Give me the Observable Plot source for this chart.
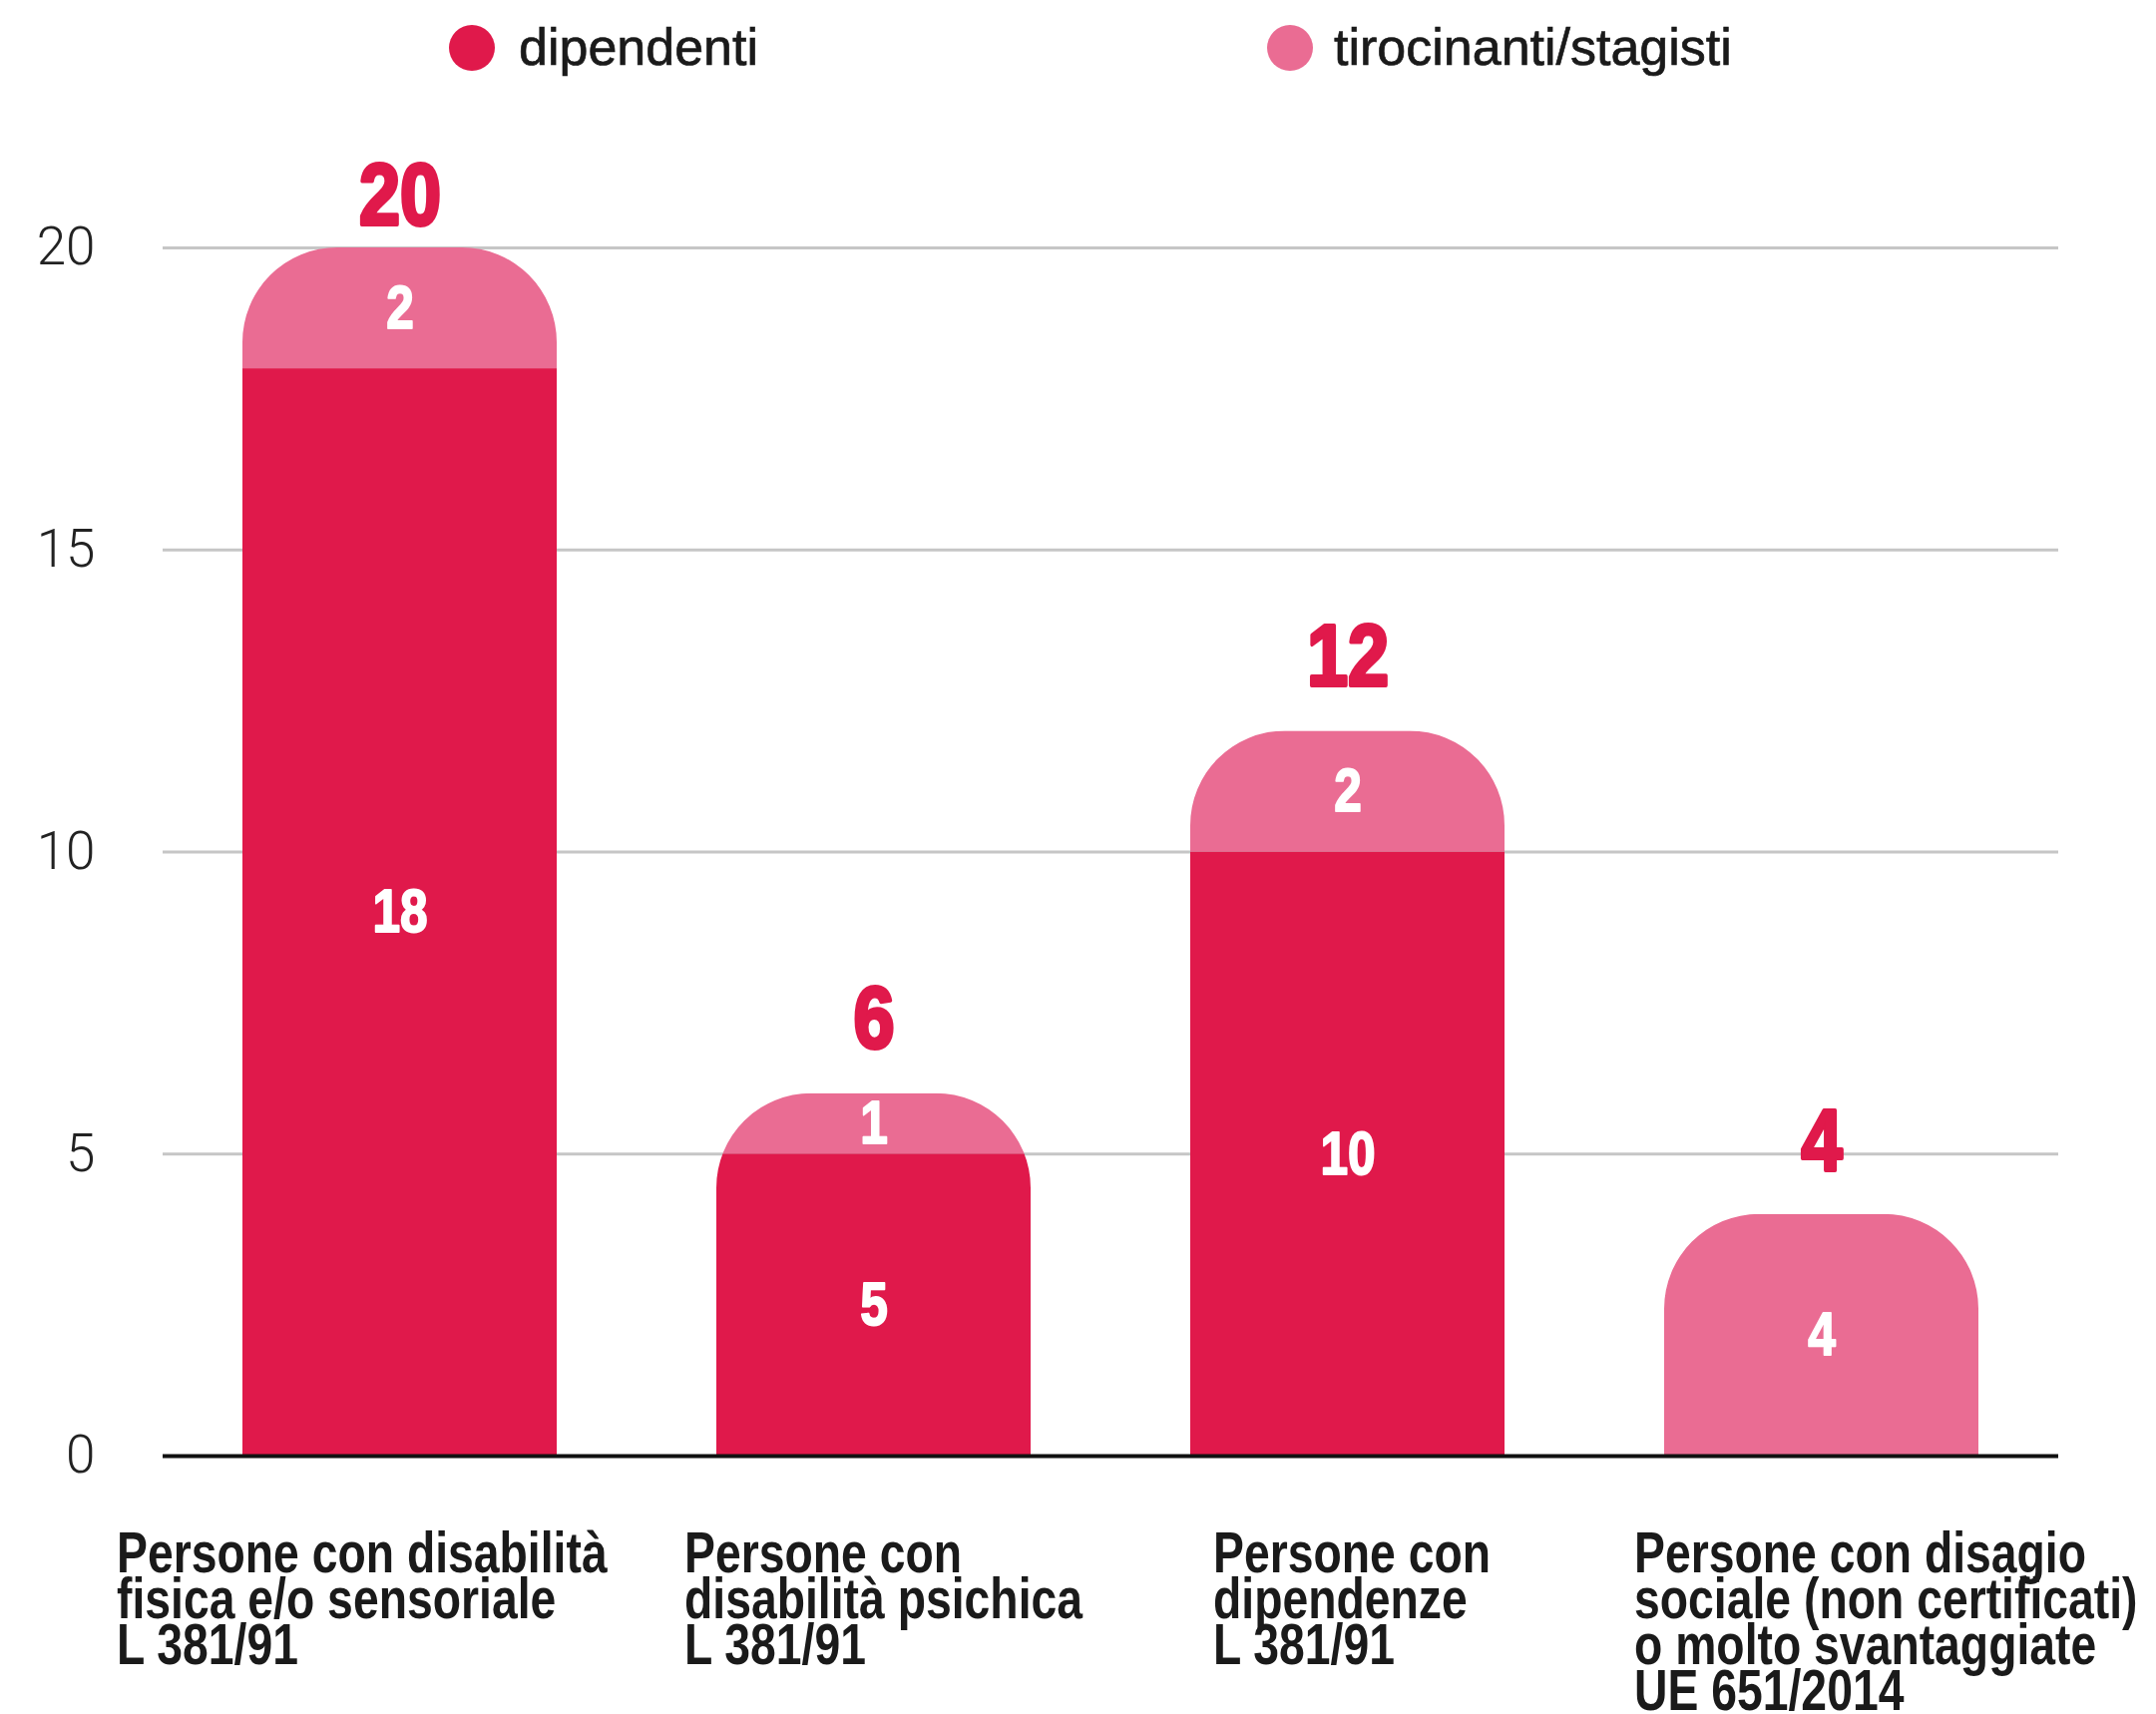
<!DOCTYPE html>
<html>
<head>
<meta charset="utf-8">
<script src="https://cdn.jsdelivr.net/npm/d3@7"></script>
<script src="https://cdn.jsdelivr.net/npm/@observablehq/plot@0.6"></script>
<style>
  html, body { margin: 0; padding: 0; background: #ffffff; }
  #wrap { width: 2161px; }
  #legend { position: relative; width: 2161px; height: 100px; font-family: "Liberation Sans", Arial, sans-serif; font-size: 52px; line-height: 52px; color: #1a1a1a; }
  .dot { position: absolute; width: 46px; height: 46px; border-radius: 50%; top: 25px; }
  .lab { position: absolute; top: 21px; white-space: nowrap; -webkit-text-stroke: 0.7px #1a1a1a; }
  svg { display: block; }
</style>
</head>
<body>
<div id="wrap">
  <div id="legend"></div>
  <div id="chart"></div>
</div>
<script>
// ---- data ----
const categories = [
  "Persone con disabilità\nfisica e/o sensoriale\nL 381/91",
  "Persone con\ndisabilità psichica\nL 381/91",
  "Persone con\ndipendenze\nL 381/91",
  "Persone con disagio\nsociale (non certificati)\no molto svantaggiate\nUE 651/2014"
];
const seriesNames = ["dipendenti", "tirocinanti/stagisti"];
const dipendenti = [18, 5, 10, 0];
const tirocinanti = [2, 1, 2, 4];
const yTicks = [0, 5, 10, 15, 20];

// ---- styling / layout ----
const colors = ["#e0194b", "#ea6c93"];
const legendDotX = [450, 1270];
const legendTextX = [520, 1337];
const labelDx = [-284, -190, -135, -188];
const totalDy = [-24, -46, -46, -44];
const fontSans = "'Liberation Sans', Arial, sans-serif";

// ---- derived table ----
const rows = [];
categories.forEach((c, i) => rows.push({cat: c, series: seriesNames[0], value: dipendenti[i]}));
categories.forEach((c, i) => rows.push({cat: c, series: seriesNames[1], value: tirocinanti[i]}));
const totals = categories.map((c, i) => ({cat: c, total: dipendenti[i] + tirocinanti[i]}));

// ---- legend ----
const legend = document.getElementById("legend");
seriesNames.forEach((name, i) => {
  const dot = document.createElement("div");
  dot.className = "dot";
  dot.style.left = legendDotX[i] + "px";
  dot.style.background = colors[i];
  legend.appendChild(dot);
  const lab = document.createElement("div");
  lab.className = "lab";
  lab.style.left = legendTextX[i] + "px";
  lab.textContent = name;
  legend.appendChild(lab);
});

// ---- chart ----
const totalMarks = totals.map((t, i) =>
  Plot.text([t], {
    x: "cat", y: "total", text: d => String(d.total),
    fill: colors[0], stroke: colors[0], strokeWidth: 4,
    fontSize: 88, fontWeight: "bold", fontFamily: fontSans,
    lineAnchor: "bottom", dy: totalDy[i]
  })
);
const labelMarks = categories.map((c, i) =>
  Plot.text([c], {
    x: d => d, y: () => 0, text: d => d,
    textAnchor: "start", lineAnchor: "top", dx: labelDx[i], dy: 84,
    lineHeight: 0.815, fontSize: 56.5, fontWeight: "bold",
    fontFamily: fontSans, fill: "#1a1a1a"
  })
);

const chart = Plot.plot({
  width: 2161,
  height: 1618,
  marginTop: 148,
  marginBottom: 259,
  marginLeft: 163,
  marginRight: 98,
  style: {background: "#ffffff", fontFamily: fontSans},
  x: {domain: categories, paddingInner: 0.337, paddingOuter: 0.168, axis: null},
  y: {domain: [0, 20], axis: null},
  color: {domain: seriesNames, range: colors},
  marks: [
    Plot.ruleY(yTicks.filter(t => t > 0), {stroke: "#c6c6c6", strokeWidth: 3}),
    Plot.axisY({ticks: yTicks, tickSize: 0, tickPadding: 68, fontSize: 53, fontWeight: 300,
      fontFamily: "Roboto, 'Liberation Sans', sans-serif", fill: "#222", label: null, tickFormat: d => String(d)}),
    Plot.barY(rows, {x: "cat", y: "value", fill: "series", order: seriesNames}),
    Plot.ruleY([0], {stroke: "#111", strokeWidth: 4}),
    Plot.text(rows, Plot.stackY({
      filter: d => d.value > 0,
      x: "cat", y: "value", z: "series", order: seriesNames,
      text: d => String(d.value),
      fill: "#ffffff", stroke: "#ffffff", strokeWidth: 2,
      fontSize: 62, fontWeight: "bold", fontFamily: fontSans, lineAnchor: "middle"
    })),
    ...totalMarks,
    ...labelMarks
  ]
});

document.getElementById("chart").appendChild(chart);

// ---- rounded tops: clip the stacked bars to each bar's silhouette ----
const xs = chart.scale("x"), ys = chart.scale("y");
const xApply = xs.apply ? xs.apply : d3.scaleBand(xs.domain, xs.range).paddingInner(xs.paddingInner).paddingOuter(xs.paddingOuter).align(xs.align ?? 0.5);
const yApply = ys.apply ? ys.apply : d3.scaleLinear(ys.domain, ys.range);
const bw = xs.bandwidth;
const svg = d3.select(chart);
const defs = svg.insert("defs", ":first-child");
const cp = defs.append("clipPath").attr("id", "bar-silhouettes");
totals.forEach(t => {
  const x0 = xApply(t.cat), x1 = x0 + bw;
  const yTop = yApply(t.total), yBot = yApply(0) + 4;
  const r = Math.min(95, bw / 2, yBot - yTop);
  cp.append("path").attr("d",
    `M${x0},${yBot}L${x0},${yTop + r}A${r},${r} 0 0 1 ${x0 + r},${yTop}L${x1 - r},${yTop}A${r},${r} 0 0 1 ${x1},${yTop + r}L${x1},${yBot}Z`);
});
svg.selectAll('g[aria-label="bar"]').attr("clip-path", "url(#bar-silhouettes)");

// ---- condense the bold face horizontally (no narrow font installed) ----
function squeeze(g, k) {
  d3.select(g).selectAll("text").each(function () {
    const t = this.getAttribute("transform");
    if (t) this.setAttribute("transform", t + ` scale(${k},1)`);
    else {
      const x = +this.getAttribute("x") || 0, y = +this.getAttribute("y") || 0;
      this.removeAttribute("x"); this.removeAttribute("y");
      this.setAttribute("transform", `translate(${x},${y}) scale(${k},1)`);
    }
  });
}
const textGroups = svg.selectAll('g[aria-label="text"]').nodes();
textGroups.forEach((g, i) => {
  if (i === 0) squeeze(g, 0.8);
  else if (i <= totals.length) squeeze(g, 0.84);
  else squeeze(g, 0.82);
});
</script>
</body>
</html>
